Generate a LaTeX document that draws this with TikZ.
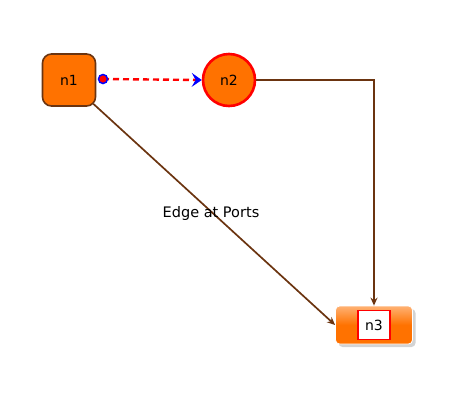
\documentclass[tikz,border=0pt]{standalone}
\usepackage{fontspec}
\setmainfont{DejaVu Sans}
\usetikzlibrary{arrows.meta,shadows,calc}
\definecolor{orng}{HTML}{FF7200}
\definecolor{brwn}{HTML}{6B3410}
\begin{document}
\begin{tikzpicture}[x=1pt,y=-1pt,
  lbl/.style={font=\fontsize{14}{16}\selectfont},
  edge/.style={draw=brwn,line width=1.7pt,-{Stealth[length=8pt,width=7pt]}},
]
\useasboundingbox (0,0) rectangle (460,400);
\node[draw=brwn,line width=1.6pt,fill=orng,rounded corners=9pt,minimum width=53pt,minimum height=52pt,lbl] (n1) at (69,80) {n1};
\node[circle,draw=red,line width=2.6pt,fill=orng,minimum size=52pt,lbl] (n2) at (229,80) {n2};
\node[rounded corners=4pt,minimum width=77pt,minimum height=38pt,draw=white,line width=0.8pt,
  top color=orng!55!white,bottom color=orng,middle color=orng,shading angle=0,
  drop shadow={shadow xshift=3pt,shadow yshift=-3pt,opacity=0.35}] (n3) at (374,325) {};
\node[draw=red,line width=1.2pt,fill=white,minimum width=32pt,minimum height=29pt,lbl] (n3t) at (n3.center) {n3};
\coordinate (p1) at (103,79);
\draw[red,line width=2.4pt,dash pattern=on 6pt off 4pt,-{Stealth[length=10pt,width=14pt,inset=4pt,line width=1pt,color=blue,fill=blue]}] (p1) -- (n2.west);
\node[circle,draw=blue,fill=red,line width=1.5pt,inner sep=0pt,minimum size=9pt] (pd) at (p1) {};
\draw[edge] (n2.east) -- (n2.east -| n3.north) -- (n3.north);
\draw[edge] (n1.south east) ++(-3,-3) coordinate (s1) (s1) -- (n3.west);
\node[font=\fontsize{14.5}{17}\selectfont] (el) at (211,213) {Edge at Ports};
\end{tikzpicture}
\end{document}
